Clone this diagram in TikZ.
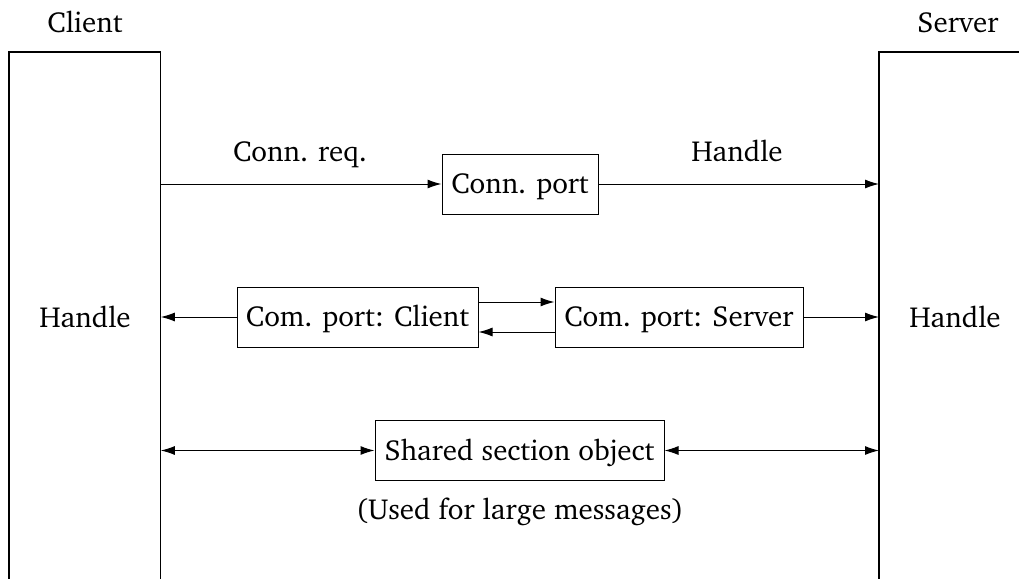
\documentclass[tikz,border=0pt]{standalone}
\usepackage[T1]{fontenc}
\usepackage{charter}
\usetikzlibrary{arrows.meta}
\begin{document}
\begin{tikzpicture}[x=0.5pt,y=-0.5pt,
  every node/.style={font=\fontsize{14.5}{17}\selectfont, inner sep=0pt, text height=9.7pt, text depth=0pt},
  port/.style={draw, line width=0.5pt, minimum height=30pt, inner xsep=0pt},
  conn/.style={line width=0.5pt, -{Latex[length=7pt,width=4.5pt]}},
  bconn/.style={line width=0.5pt, {Latex[length=7pt,width=4.5pt]}-{Latex[length=7pt,width=4.5pt]}},
  col/.style={line width=0.6pt}]
\useasboundingbox (0,0) rectangle (1019,579);
% columns
\node[minimum width=75.5pt, minimum height=263.5pt, anchor=north west, text height=, text depth=] (client) at (9,52) {};
\node[minimum width=70pt, minimum height=263.5pt, anchor=north west, text height=, text depth=] (server) at (879,52) {};
\draw[col] (client.south west) -- (client.north west) -- (client.north east) -- (client.south east);
\draw[col] (server.south west) -- (server.north west) -- (server.north east);
\node (clientlbl) at (85,23) {Client};
\node (serverlbl) at (958,23) {Server};
\node (hl) at (85,318) {Handle};
\node (hr) at (955,318) {Handle};
% row 1
\node[port, minimum width=78pt] (cport) at (520,184) {Conn. port};
\node (req) at (300,152) {Conn. req.};
\node (hdl) at (737,152) {Handle};
\draw[conn] (cport.west -| client.east) -- (cport.west);
\draw[conn] (cport.east) -- (cport.east -| server.west);
% row 2
\node[port, minimum width=120.5pt] (cpc) at (357.5,317) {Com. port: Client};
\node[port, minimum width=124pt] (cps) at (679,317) {Com. port: Server};
\draw[conn] (cpc.west) -- (cpc.west -| client.east);
\draw[conn] (cps.east) -- (cps.east -| server.west);
\draw[conn] ([yshift=7.5pt]cpc.east) -- ([yshift=7.5pt]cpc.east -| cps.west);
\draw[conn] ([yshift=-7.5pt]cps.west) -- ([yshift=-7.5pt]cps.west -| cpc.east);
% row 3
\node[port, minimum width=144.5pt] (sso) at (519.5,450.5) {Shared section object};
\node (used) at (520,510) {(Used for large messages)};
\draw[bconn] (sso.west -| client.east) -- (sso.west);
\draw[bconn] (sso.east) -- (sso.east -| server.west);
\end{tikzpicture}
\end{document}
